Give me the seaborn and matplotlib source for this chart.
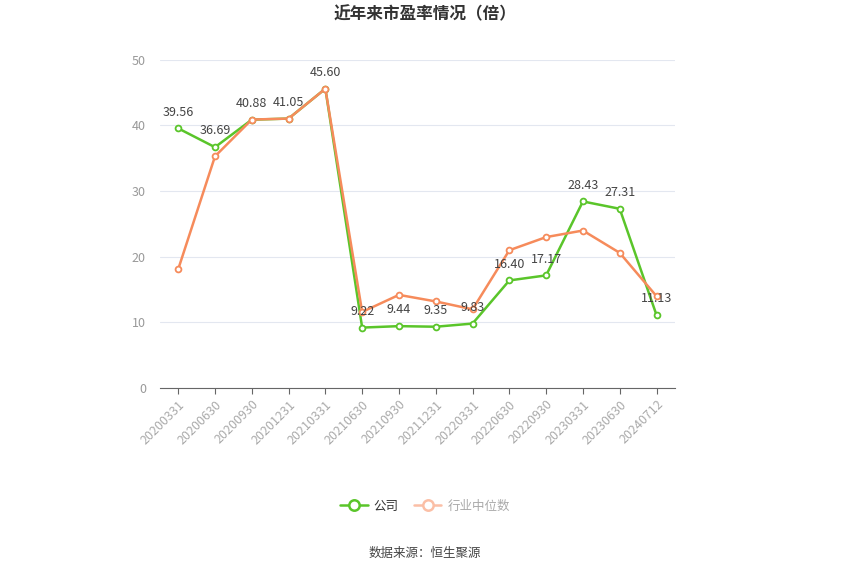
import numpy as np
import pandas as pd
import seaborn as sb
import matplotlib
matplotlib.use('Agg')
from matplotlib import pyplot as plt
from matplotlib.lines import Line2D

# 数据
dates = ['20200331', '20200630', '20200930', '20201231', '20210331', '20210630', '20210930',
         '20211231', '20220331', '20220630', '20220930', '20230331', '20230630', '20240712']
company = [39.56, 36.69, 40.88, 41.05, 45.60, 9.22, 9.44, 9.35, 9.83, 16.40, 17.17, 28.43, 27.31, 11.13]
industry = [18.1, 35.3, 40.9, 41.05, 45.6, 11.6, 14.2, 13.2, 12.0, 21.0, 23.0, 24.0, 20.6, 14.0]

sb.set_style('white')
plt.rcParams['font.family'] = ['Noto Sans CJK SC', 'DejaVu Sans']

green = '#5ac52a'
orange = '#f68b5b'

df = pd.DataFrame({'x': np.arange(len(dates)), '公司': company, '行业中位数': industry})

fig = plt.figure(figsize=(8.5, 5.75), dpi=100)
ax = fig.add_axes([0.188, 0.325, 0.606, 0.571])

sb.lineplot(data=df, x='x', y='公司', ax=ax, color=green, linewidth=1.8,
            marker='o', markersize=4.2, markerfacecolor='white', markeredgecolor=green,
            markeredgewidth=1.3, zorder=3)
sb.lineplot(data=df, x='x', y='行业中位数', ax=ax, color=orange, linewidth=1.8,
            marker='o', markersize=4.2, markerfacecolor='white', markeredgecolor=orange,
            markeredgewidth=1.3, zorder=4)

# 数据标签
for i, v in enumerate(company):
    ax.annotate(f'{v:.2f}', (i, v), xytext=(0, 7), textcoords='offset points',
                ha='center', va='bottom', fontsize=9, color='#444444', zorder=5)

ax.set_xlim(-0.5, len(dates) - 0.5)
ax.set_ylim(0, 50)
ax.set_yticks([0, 10, 20, 30, 40, 50])
ax.set_xticks(np.arange(len(dates)))
ax.set_xticklabels(dates, rotation=45, ha='right', rotation_mode='anchor', fontsize=9, color='#aaaaaa')
ax.tick_params(axis='y', labelsize=9, labelcolor='#999999', length=0, pad=10)
ax.tick_params(axis='x', length=4, color='#666666', pad=3, direction='out', bottom=True)
ax.grid(axis='y', color='#e3e7f0', linewidth=0.8)
ax.set_axisbelow(True)
for s in ['top', 'right', 'left']:
    ax.spines[s].set_visible(False)
ax.spines['bottom'].set_color('#666666')
ax.set_xlabel('')
ax.set_ylabel('')

fig.text(0.5, 0.975, '近年来市盈率情况（倍）', ha='center', va='center', fontsize=12,
         fontweight='bold', color='#333333')

handles = [Line2D([], [], color=green, linewidth=1.8, marker='o', markersize=7.5,
                  markerfacecolor='white', markeredgecolor=green, markeredgewidth=1.8),
           Line2D([], [], color='#fbbfa6', linewidth=1.8, marker='o', markersize=7.5,
                  markerfacecolor='white', markeredgecolor='#fbbfa6', markeredgewidth=1.8)]
leg = fig.legend(handles, ['公司', '行业中位数'], loc='center', bbox_to_anchor=(0.5, 0.12),
                 ncol=2, frameon=False, fontsize=9, handlelength=2.2, columnspacing=1.2,
                 handletextpad=0.5)
leg.get_texts()[0].set_color('#333333')
leg.get_texts()[1].set_color('#aaaaaa')

fig.text(0.5, 0.037, '数据来源：恒生聚源', ha='center', va='center', fontsize=9, color='#444444')

fig.savefig('out.png', dpi=100)
plt.close()
